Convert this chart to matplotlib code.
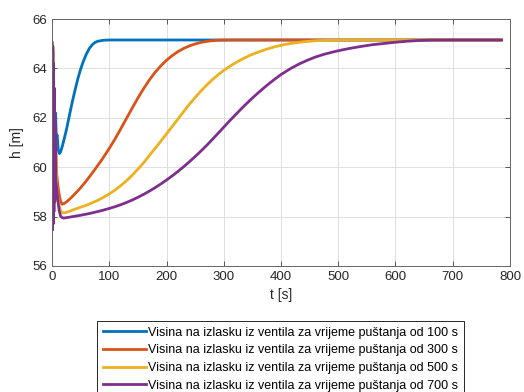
import numpy as np
import matplotlib
matplotlib.use("Agg")
from matplotlib import pyplot as plt

# values
t_100 = [0, 0.7, 1.4, 2.1, 2.8, 3.5, 4.3, 5.2, 6.2, 7.5, 9, 11, 13, 15, 18, 21, 25, 30, 35, 40,
         45, 50, 55, 60, 65, 70, 75, 80, 90, 100, 785]
h_100 = [65.0, 57.6, 64.7, 58.3, 63.6, 59.5, 62.8, 60.6, 62.2, 61.2, 61.3, 60.7, 60.55, 60.62, 60.85,
         61.12, 61.5, 62.05, 62.6, 63.1, 63.57, 63.97, 64.3, 64.58, 64.8, 64.95, 65.05, 65.1, 65.14,
         65.15, 65.15]

t_300 = [0, 0.7, 1.4, 2.1, 2.8, 3.5, 4.3, 5.2, 6.5, 8, 10, 12.5, 15, 17.5, 21, 25, 30, 35, 40, 45,
         50, 58, 66, 74, 87, 100, 110, 120, 130, 140, 150, 160, 170, 180, 190, 200, 210, 220, 230,
         240, 250, 260, 275, 290, 310, 785]
h_300 = [65.0, 57.5, 64.8, 58.0, 63.2, 59.0, 62.4, 60.2, 61.0, 59.8, 59.3, 58.9, 58.62, 58.5, 58.53,
         58.59, 58.69, 58.8, 58.92, 59.04, 59.17, 59.39, 59.63, 59.88, 60.3, 60.76, 61.14, 61.55,
         61.97, 62.39, 62.8, 63.18, 63.53, 63.84, 64.1, 64.33, 64.52, 64.68, 64.81, 64.91, 64.99,
         65.05, 65.11, 65.14, 65.15, 65.15]

t_500 = [0, 0.7, 1.4, 2.1, 2.8, 3.5, 4.3, 5.2, 6.5, 8, 10, 12.5, 15, 17.5, 20.5, 25, 30, 40, 50, 60,
         70, 80, 90, 100, 110, 120, 130, 140, 150, 160, 170, 180, 190, 200, 210, 220, 230, 240,
         250, 260, 270, 280, 290, 300, 315, 330, 345, 360, 375, 390, 405, 420, 440, 460, 480,
         500, 785]
h_500 = [65.0, 57.5, 64.9, 57.9, 63.8, 58.7, 62.6, 59.6, 60.5, 59.3, 58.8, 58.45, 58.25, 58.17,
         58.15, 58.17, 58.21, 58.3, 58.38, 58.46, 58.56, 58.66, 58.78, 58.92, 59.07, 59.25, 59.45,
         59.67, 59.92, 60.18, 60.47, 60.76, 61.05, 61.35, 61.65, 61.95, 62.25, 62.55, 62.82,
         63.08, 63.32, 63.54, 63.74, 63.92, 64.15, 64.35, 64.52, 64.66, 64.78, 64.88, 64.96, 65.02,
         65.08, 65.12, 65.14, 65.15, 65.15]

t_700 = [0, 0.6, 1.3, 2.0, 2.7, 3.4, 4.1, 4.8, 5.6, 6.5, 8, 10, 12.5, 15, 17.5, 20.5, 30, 40, 50,
         60, 70, 80, 90, 100, 110, 120, 130, 140, 150, 160, 170, 180, 190, 200, 210, 220, 230,
         240, 250, 260, 270, 280, 290, 300, 310, 320, 330, 340, 350, 360, 370, 380, 390, 400,
         415, 430, 445, 460, 475, 490, 505, 520, 540, 560, 580, 600, 620, 640, 660, 690, 785]
h_700 = [65.05, 57.45, 64.9, 57.7, 64.2, 58.2, 63.2, 58.6, 61.8, 59.5, 59.2, 58.7, 58.25, 58.02,
         57.96, 57.94, 57.975, 58.015, 58.055, 58.1, 58.15, 58.205, 58.265, 58.33, 58.4, 58.48,
         58.57, 58.67, 58.78, 58.9, 59.03, 59.17, 59.32, 59.48, 59.65, 59.83, 60.02, 60.22,
         60.43, 60.65, 60.88, 61.12, 61.37, 61.62, 61.87, 62.11, 62.35, 62.58, 62.8, 63.01,
         63.21, 63.4, 63.58, 63.75, 63.97, 64.16, 64.32, 64.46, 64.57, 64.66, 64.74, 64.81,
         64.89, 64.96, 65.01, 65.06, 65.1, 65.13, 65.145, 65.15, 65.15]

labels = ['Visina na izlasku iz ventila za vrijeme puštanja od 100 s',
          'Visina na izlasku iz ventila za vrijeme puštanja od 300 s',
          'Visina na izlasku iz ventila za vrijeme puštanja od 500 s',
          'Visina na izlasku iz ventila za vrijeme puštanja od 700 s']
colors = ['#0072BD', '#D95319', '#EDB120', '#7E2F8E']

plt.rcParams['font.family'] = ['Liberation Sans', 'DejaVu Sans']

fig = plt.figure(figsize=(5.24, 3.92), dpi=100)
ax = fig.add_axes([52/524, 1 - 266/392, 458/524, 247/392])

series = [(t_100, h_100), (t_300, h_300), (t_500, h_500), (t_700, h_700)]
for (t, h), c, lab in zip(series, colors, labels):
    ax.plot(t, h, color=c, lw=2.0, label=lab)

ax.set_xlim(0, 800)
ax.set_ylim(56, 66)
ax.set_xticks(np.arange(0, 801, 100))
ax.set_yticks(np.arange(56, 67, 2))
ax.grid(True, color='#dedede', lw=0.7)
ax.set_axisbelow(True)
ax.tick_params(direction='in', top=True, right=True, length=3.5, width=0.7,
               colors='#555555', labelcolor='#262626', labelsize=9.5)
for s in ax.spines.values():
    s.set_color('#666666')
    s.set_linewidth(0.7)
ax.set_xlabel('t [s]', fontsize=10, color='#262626', labelpad=4)
ax.set_ylabel('h [m]', fontsize=10, color='#262626', labelpad=6)

leg = fig.legend(loc='upper left', bbox_to_anchor=(97/524, 1 - 321/392), borderaxespad=0,
                 fontsize=9, handlelength=3.5, handletextpad=0.15, labelspacing=0.45,
                 borderpad=0.45, fancybox=False, framealpha=1)
leg.get_frame().set_edgecolor('#262626')
leg.get_frame().set_linewidth(0.7)

fig.savefig('out.png', dpi=100)
